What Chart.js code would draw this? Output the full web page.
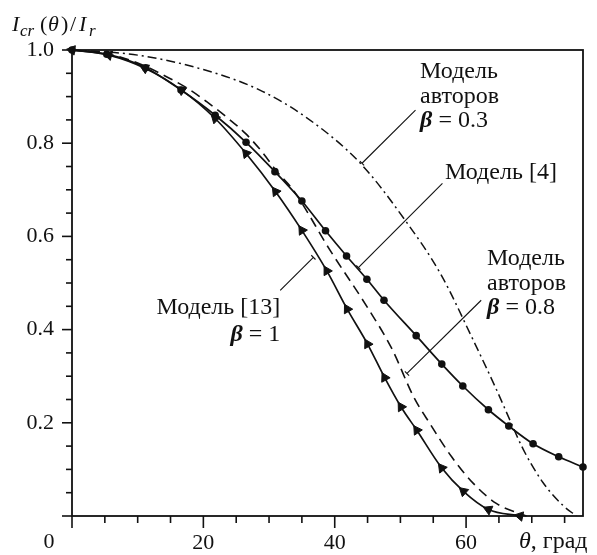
<!DOCTYPE html>
<html>
<head>
<meta charset="utf-8">
<script src="https://cdn.jsdelivr.net/npm/chart.js@4.4.0/dist/chart.umd.min.js"></script>
<style>
  html, body { margin: 0; padding: 0; background: #fff; }
  #wrap { width: 597px; height: 555px; position: relative; }
</style>
</head>
<body>
<div id="wrap"><canvas id="myChart"></canvas></div>
<script>
// theta, deg -> Icr(theta)/Ir

// Модель [4] (circles)
var model4X = [0, 5.3, 11.2, 16.6, 21.8, 26.5, 30.9, 35.0, 38.6, 41.8, 44.9, 47.5, 52.4, 56.3, 59.5, 63.4, 66.5, 70.2, 74.1, 77.8];
var model4Y = [1.0, 0.991, 0.962, 0.914, 0.860, 0.802, 0.739, 0.676, 0.612, 0.558, 0.508, 0.463, 0.387, 0.326, 0.279, 0.228, 0.193, 0.155, 0.127, 0.105];

// Модель [13], beta = 1 (triangles)
var model13X = [0, 5.6, 11.1, 16.7, 21.8, 26.5, 31.0, 35.0, 38.8, 41.9, 45.0, 47.6, 50.1, 52.5, 56.3, 59.6, 63.4, 68.2];
var model13Y = [1.0, 0.989, 0.961, 0.914, 0.853, 0.778, 0.696, 0.613, 0.526, 0.444, 0.369, 0.297, 0.234, 0.184, 0.103, 0.053, 0.014, 0.0];

// Модель авторов, beta = 0.8 (dashed)
var beta08X = [0, 5, 10, 14.9, 18.0, 20.5, 23.8, 26.4, 28.9, 31.2, 33.7, 39.3, 45.1, 48.7, 52.0, 54.5, 57.8, 61.1, 64.6, 68.2, 69.2];
var beta08Y = [1.0, 0.993, 0.972, 0.939, 0.914, 0.889, 0.853, 0.821, 0.782, 0.739, 0.699, 0.570, 0.445, 0.359, 0.256, 0.198, 0.127, 0.070, 0.027, 0.005, 0.0];

// Модель авторов, beta = 0.3 (dash-dot)
var beta03X = [0, 10, 20, 28.6, 35.7, 43.9, 50.7, 56.1, 61.1, 64.6, 66.7, 68.7, 71.7, 74.8, 76.8];
var beta03Y = [1.0, 0.989, 0.958, 0.914, 0.855, 0.757, 0.635, 0.520, 0.377, 0.272, 0.205, 0.143, 0.072, 0.022, 0.0];

var xTickLabels = [20, 40, 60];
var yTickLabels = [0.2, 0.4, 0.6, 0.8, 1.0];

var FONT = "'Liberation Serif', 'DejaVu Serif', serif";
var INK = '#111';
var TEXT_SIZE = 24;

function pts(xs, ys) {
  return xs.map(function (x, i) { return { x: x, y: ys[i] }; });
}

// triangles point back along the curve
function backRotation(c) {
  var d = c.dataset.data, i = c.dataIndex;
  var xs = c.chart.scales.x, ys = c.chart.scales.y;
  var a = d[Math.max(i - 1, 0)], b = d[Math.min(i + 1, d.length - 1)];
  var dx = xs.getPixelForValue(a.x) - xs.getPixelForValue(b.x);
  var dy = ys.getPixelForValue(a.y) - ys.getPixelForValue(b.y);
  return Math.atan2(dx, -dy) * 180 / Math.PI;
}

// callouts: text anchor and leader line, in data units
var notes = [
  { lines: [[['Модель', '']], [['авторов', '']], [['β', 'b'], [' = 0.3', '']]], x: 53.0, y: [0.953, 0.899, 0.849], align: 'left',
    from: [52.3, 0.871], to: [44.15, 0.757] },
  { lines: [[['Модель [4]', '']]], x: 56.8, y: [0.736], align: 'left',
    from: [56.4, 0.714], to: [43.6, 0.533] },
  { lines: [[['Модель', '']], [['авторов', '']], [['β', 'b'], [' = 0.8', '']]], x: 63.2, y: [0.553, 0.499, 0.446], align: 'left',
    from: [62.3, 0.463], to: [51.0, 0.306] },
  { lines: [[['Модель [13]', '']], [['β', 'b'], [' = 1', '']]], x: 31.7, y: [0.446, 0.388], align: 'right',
    from: [31.7, 0.484], to: [36.75, 0.555] }
];

function partFont(kind, size) {
  if (kind === 'b') return 'italic bold ' + size + 'px ' + FONT;
  if (kind === 'i') return 'italic ' + size + 'px ' + FONT;
  return size + 'px ' + FONT;
}

function drawParts(ctx, parts, x, y, align, size) {
  var w = 0;
  parts.forEach(function (p) { ctx.font = partFont(p[1], size); w += ctx.measureText(p[0]).width; });
  var cx = align === 'right' ? x - w : x;
  parts.forEach(function (p) {
    ctx.font = partFont(p[1], size);
    ctx.fillText(p[0], cx, y);
    cx += ctx.measureText(p[0]).width;
  });
}

var decor = {
  id: 'decor',
  afterDraw: function (chart) {
    var ctx = chart.ctx, a = chart.chartArea;
    var xs = chart.scales.x, ys = chart.scales.y;
    ctx.save();
    ctx.strokeStyle = INK;
    ctx.fillStyle = INK;
    ctx.lineCap = 'butt';

    // frame
    ctx.lineWidth = 1.8;
    ctx.strokeRect(a.left, a.top, a.right - a.left, a.bottom - a.top);

    // y ticks every 0.05, longer at 0.2
    ctx.lineWidth = 1.6;
    for (var k = 0; k <= 20; k++) {
      var v = k * 0.05, py = ys.getPixelForValue(v);
      var len = (k % 4 === 0) ? 10 : 6;
      ctx.beginPath(); ctx.moveTo(a.left - len, py); ctx.lineTo(a.left, py); ctx.stroke();
    }
    // x ticks every 5, longer at 20
    for (var j = 0; j * 5 <= xs.max + 0.01; j++) {
      var px = xs.getPixelForValue(j * 5);
      var l2 = (j % 4 === 0) ? 12 : 7;
      ctx.beginPath(); ctx.moveTo(px, a.bottom); ctx.lineTo(px, a.bottom + l2); ctx.stroke();
    }

    // leader lines
    ctx.lineWidth = 1.1;
    notes.forEach(function (n) {
      var x1 = xs.getPixelForValue(n.from[0]), y1 = ys.getPixelForValue(n.from[1]);
      var x2 = xs.getPixelForValue(n.to[0]), y2 = ys.getPixelForValue(n.to[1]);
      ctx.beginPath(); ctx.moveTo(x1, y1); ctx.lineTo(x2, y2); ctx.stroke();
      var dl = Math.hypot(x2 - x1, y2 - y1), nx = -(y2 - y1) / dl * 3, ny = (x2 - x1) / dl * 3;
      ctx.beginPath(); ctx.moveTo(x2 - nx, y2 - ny); ctx.lineTo(x2 + nx, y2 + ny); ctx.stroke();
    });

    // callout text
    ctx.textBaseline = 'middle';
    ctx.textAlign = 'left';
    notes.forEach(function (n) {
      var tx = xs.getPixelForValue(n.x);
      n.lines.forEach(function (parts, i) {
        drawParts(ctx, parts, tx, ys.getPixelForValue(n.y[i]), n.align, TEXT_SIZE);
      });
    });

    // origin label and x title on the tick label row
    var rowY = a.bottom + 26;
    ctx.font = '22px ' + FONT;
    ctx.textAlign = 'center';
    ctx.fillText('0', xs.getPixelForValue(0) - 23, rowY);
    ctx.textAlign = 'left';
    drawParts(ctx, [['θ', 'i'], [', град', '']], a.right - 64, rowY, 'left', TEXT_SIZE);

    // y title  I_cr(θ)/I_r, glyphs spaced like the original typesetting
    ctx.textBaseline = 'alphabetic';
    var base = 31;
    var yTitle = [['I', 'i', 22, 0, 12], ['cr', 'i', 17, 5, 20], ['(', '', 22, 0, 40], ['θ', 'i', 22, 0, 48],
                  [')', '', 22, 0, 61], ['/', '', 22, 0, 70], ['I', 'i', 22, 0, 79], ['r', 'i', 17, 5, 89]];
    yTitle.forEach(function (p) {
      ctx.font = partFont(p[1], p[2]);
      ctx.fillText(p[0], p[4], base + p[3]);
    });
    ctx.restore();
  }
};

var ctx = document.getElementById('myChart').getContext('2d');

var config = {
  type: 'line',
  data: {
    datasets: [
      {
        label: 'Модель авторов β = 0.3',
        data: pts(beta03X, beta03Y),
        borderColor: INK, borderWidth: 1.5, borderDash: [9, 4, 2, 4],
        pointRadius: 0, cubicInterpolationMode: 'monotone', clip: 4
      },
      {
        label: 'Модель авторов β = 0.8',
        data: pts(beta08X, beta08Y),
        borderColor: INK, borderWidth: 1.6, borderDash: [10, 6],
        pointRadius: 0, cubicInterpolationMode: 'monotone', clip: 4
      },
      {
        label: 'Модель [13] β = 1',
        data: pts(model13X, model13Y),
        borderColor: INK, borderWidth: 1.7,
        pointStyle: 'triangle', pointRadius: 5.5, pointBackgroundColor: INK, pointBorderColor: INK, pointBorderWidth: 1,
        pointRotation: backRotation,
        cubicInterpolationMode: 'monotone', clip: 8
      },
      {
        label: 'Модель [4]',
        data: pts(model4X, model4Y),
        borderColor: INK, borderWidth: 1.7,
        pointStyle: 'circle', pointRadius: 3.8, pointBackgroundColor: INK, pointBorderColor: INK, pointBorderWidth: 0,
        cubicInterpolationMode: 'monotone', clip: 8
      }
    ]
  },
  options: {
    responsive: true,
    maintainAspectRatio: false,
    animation: false,
    events: [],
    layout: { padding: { left: 0, right: 14, top: 50, bottom: 0 } },
    plugins: {
      legend: { display: false },
      tooltip: { enabled: false }
    },
    scales: {
      x: {
        type: 'linear', min: 0, max: 77.8,
        grid: { display: false, drawTicks: false },
        border: { display: false },
        afterBuildTicks: function (s) {
          s.ticks = s.ticks.filter(function (t) { return Math.abs(t.value / 5 - Math.round(t.value / 5)) < 1e-6; });
        },
        afterFit: function (s) { s.height = 39; },
        ticks: {
          stepSize: 5, autoSkip: false, maxRotation: 0, padding: 14, color: INK,
          font: { family: FONT, size: 22 },
          callback: function (v) { return xTickLabels.indexOf(v) >= 0 ? String(v) : ''; }
        }
      },
      y: {
        type: 'linear', min: 0, max: 1,
        grid: { display: false, drawTicks: false },
        border: { display: false },
        afterFit: function (s) { s.width = 72; },
        ticks: {
          stepSize: 0.05, autoSkip: false, padding: 18, color: INK,
          font: { family: FONT, size: 22 },
          callback: function (v) {
            var hit = yTickLabels.some(function (t) { return Math.abs(t - v) < 1e-6; });
            return hit ? v.toFixed(1) : '';
          }
        }
      }
    }
  },
  plugins: [decor]
};

var myChart = new Chart(ctx, config);
</script>
</body>
</html>
